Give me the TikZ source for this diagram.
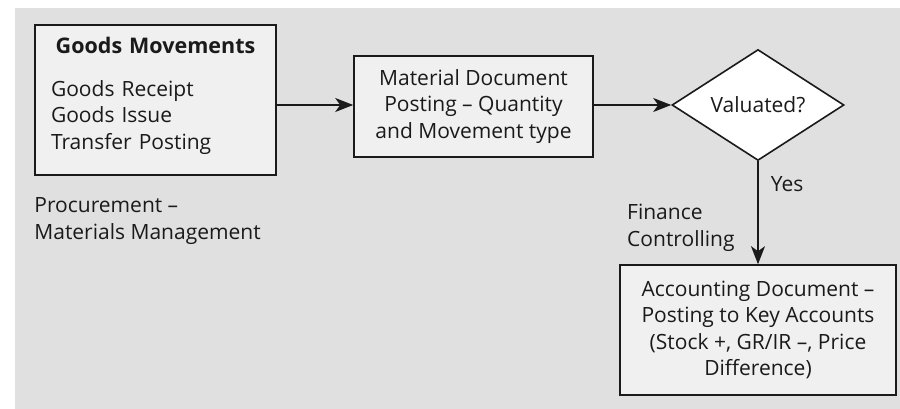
\documentclass[tikz,border=0pt]{standalone}
\usepackage{fontspec}
\setmainfont{Open Sans}
\usetikzlibrary{arrows.meta,positioning,calc,shapes.geometric}
\definecolor{ink}{HTML}{1A1A1A}
\definecolor{panel}{HTML}{E0E0E0}
\definecolor{boxfill}{HTML}{F0F0F0}

\begin{document}
\begin{tikzpicture}[x=1pt, y=-1pt,
  font=\fontsize{21}{26.5}\selectfont, ink,
  box/.style={draw=ink, fill=boxfill, line width=1.6pt, align=center, inner sep=0pt},
  decide/.style={diamond, draw=ink, fill=white, line width=1.6pt, inner sep=0pt,
                 minimum width=172pt, minimum height=98pt},
  note/.style={align=left, inner sep=0pt},
  fwd/.style={-{Stealth[length=18pt, width=14pt, inset=5pt]}, draw=ink, line width=1.6pt},
]

% ---- backdrop ---------------------------------------------------------------
\useasboundingbox (0,0) rectangle (900,409);
\fill[panel] (15,8) rectangle (900,409);

% ---- goods movements --------------------------------------------------------
\node[box, align=left, text width=209pt, minimum width=241pt, minimum height=150pt]
  (goods) at (155.5,100) {
  {\centering\bfseries\fontsize{21.5}{26.5}\selectfont Goods Movements\par}\vspace{16pt}
  Goods Receipt\\
  Goods Issue\\
  Transfer Posting\par\vspace*{8pt}
};
\node[note, anchor=north west] (proc) at ($(goods.south west)+(0,22)$)
  {Procurement --\\Materials Management};

% ---- material document ------------------------------------------------------
\node[box, minimum width=239pt, minimum height=101pt] (matdoc) at (473.5,106.5)
  {Material Document\\Posting -- Quantity\\and Movement type};

% ---- decision ---------------------------------------------------------------
\node[decide] (valuated) at (758,105) {Valuated?};
\draw[fwd] (goods.east |- valuated.west) -- (matdoc.west |- valuated.west);
\draw[fwd] (matdoc.east |- valuated.west) -- (valuated.west);

% ---- accounting document ----------------------------------------------------
\node[box, minimum width=276pt, minimum height=130pt] (acct) at (758,330)
  {Accounting Document --\\Posting to Key Accounts\\(Stock +, GR/IR --, Price\\Difference)};
\draw[fwd] (valuated.south) -- (acct.north)
  node[note, anchor=west, pos=0.22, xshift=12pt] (yes) {Yes};
\node[note, anchor=north west] (fin) at (627,204) {Finance\\Controlling};

\end{tikzpicture}
\end{document}
